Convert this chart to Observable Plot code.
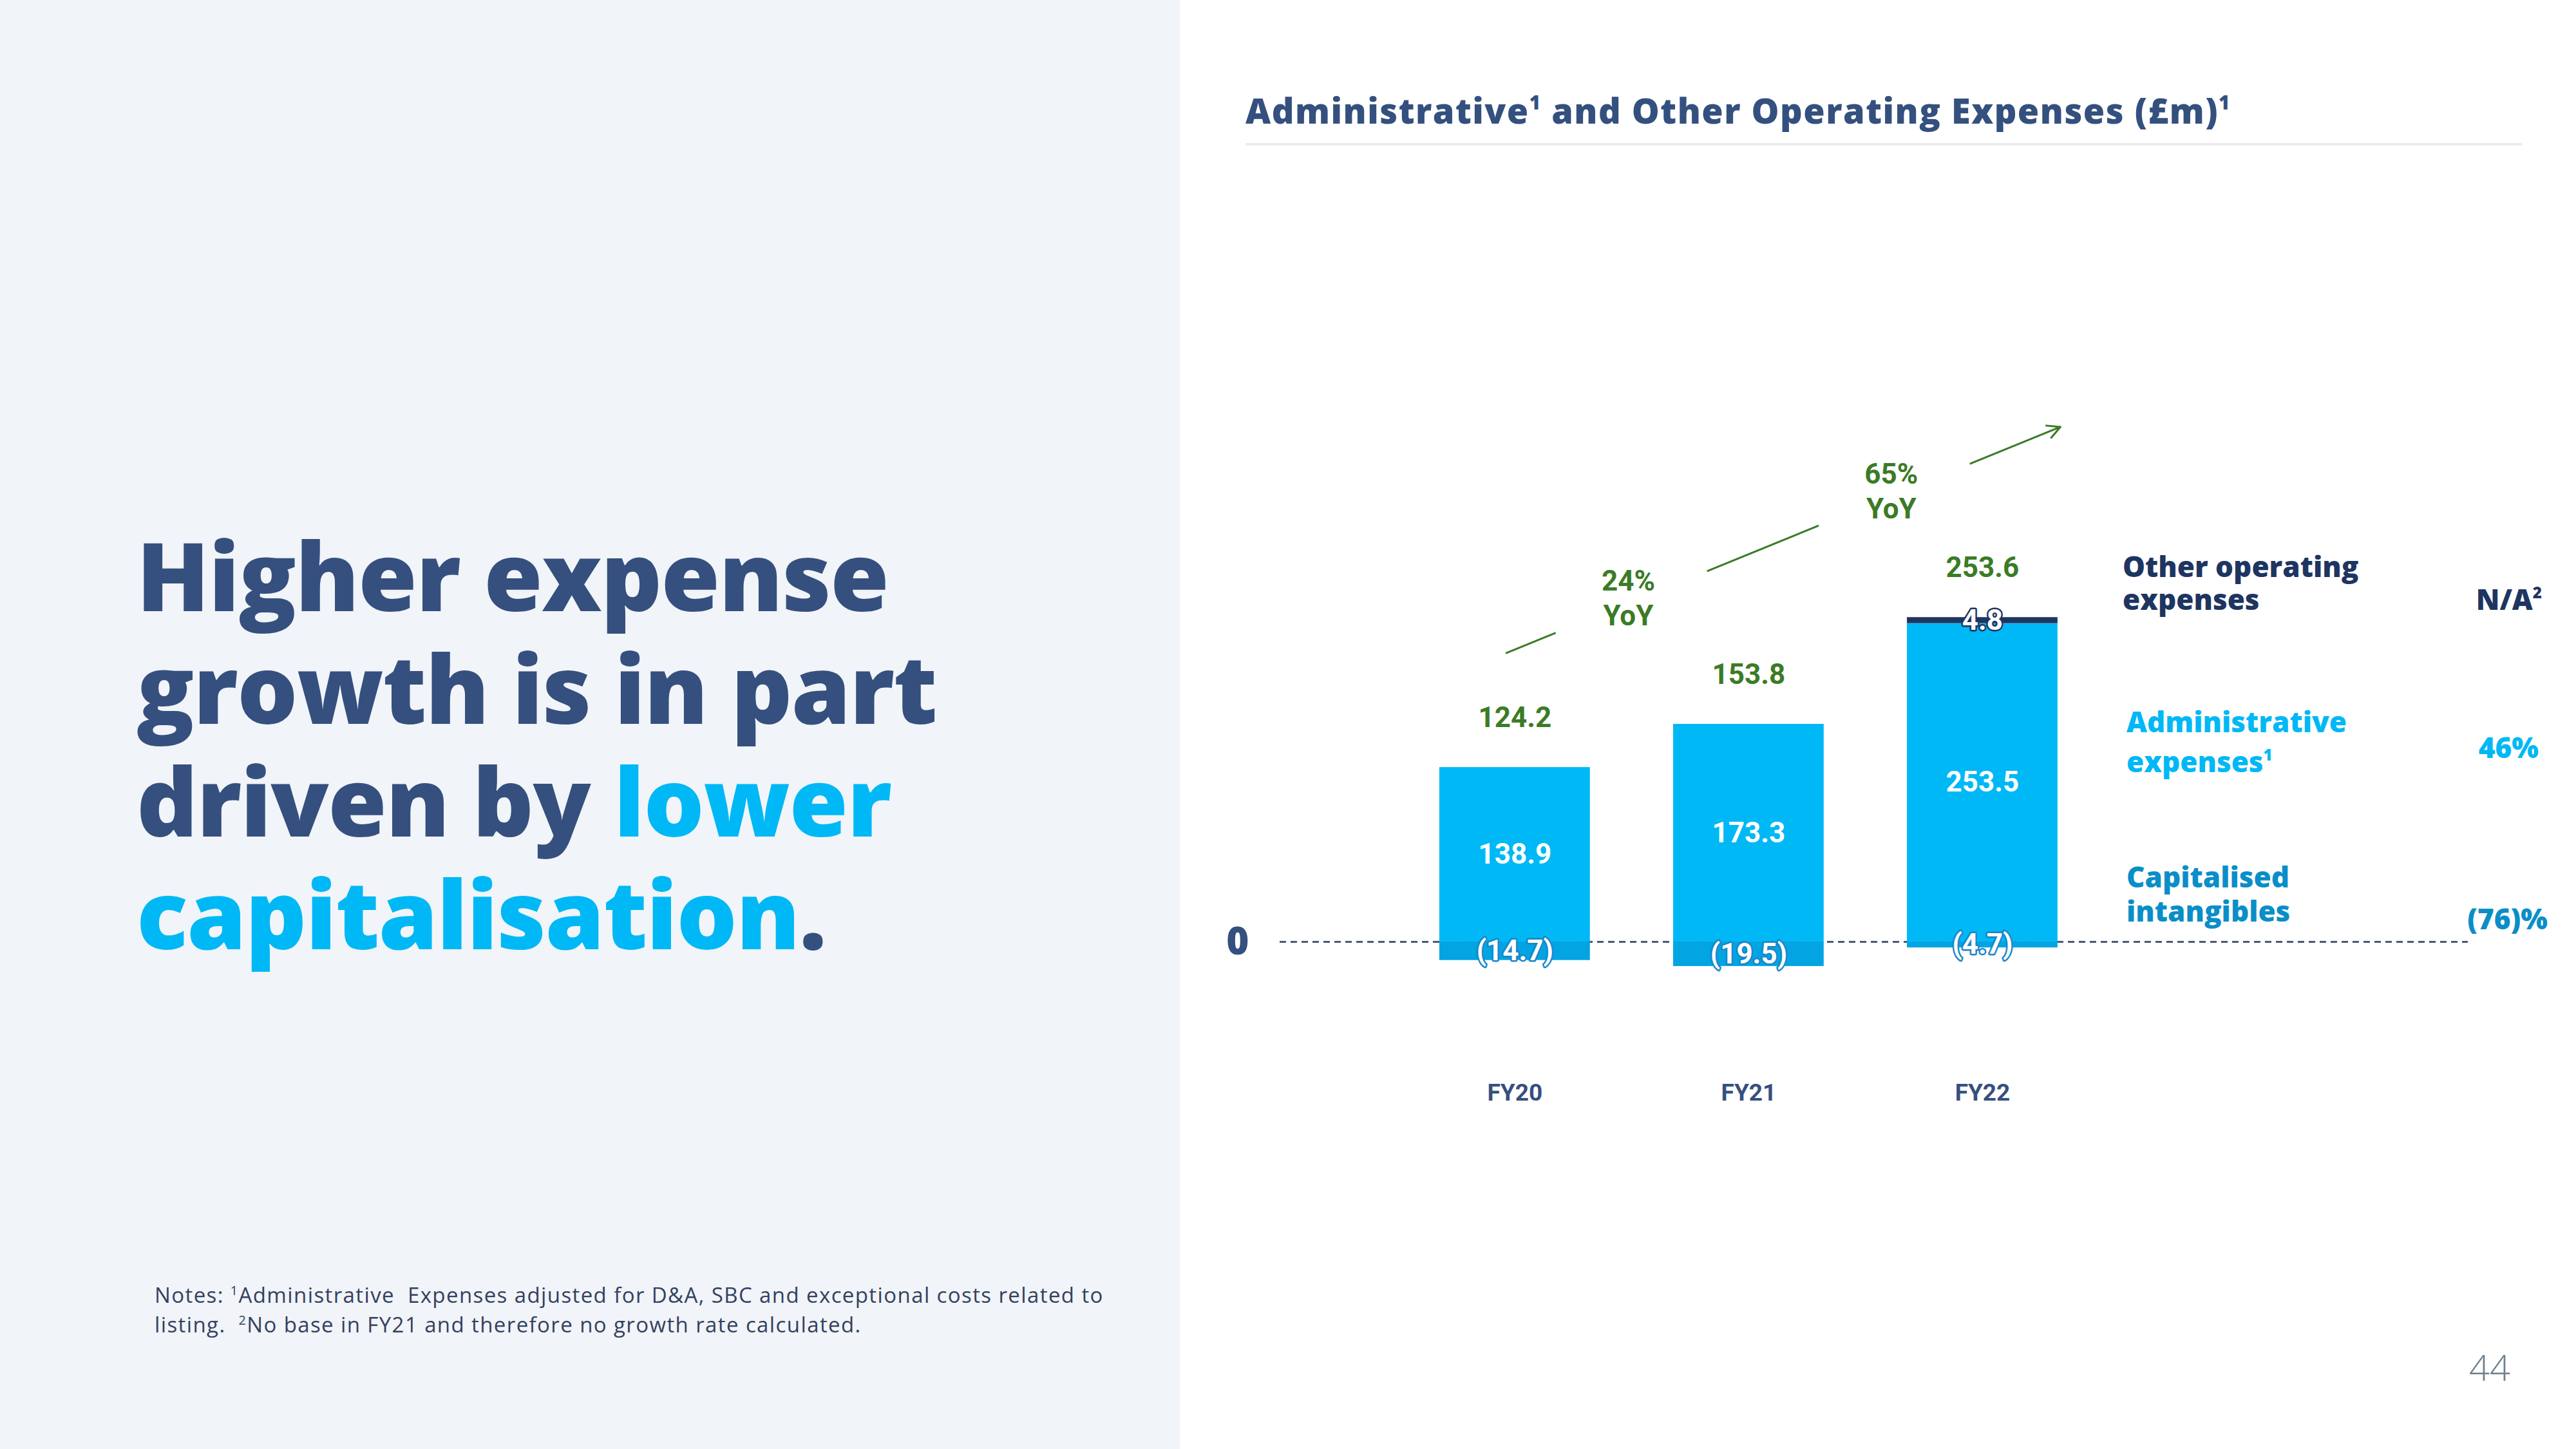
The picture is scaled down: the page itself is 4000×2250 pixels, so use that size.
<!DOCTYPE html>
<html>
<head>
<meta charset="utf-8">
<script src="https://cdn.jsdelivr.net/npm/d3@7"></script>
<script src="https://cdn.jsdelivr.net/npm/@observablehq/plot@0.6"></script>
<style>
  html, body { margin: 0; padding: 0; }
  body { width: 4000px; height: 2250px; position: relative; background: #ffffff; overflow: hidden; font-family: "Open Sans", sans-serif; }
  #leftpanel { position: absolute; left: 0; top: 0; width: 1832px; height: 2250px; background: #f1f4f8; }
  .hline { position: absolute; left: 212px; height: 175px; font-weight: 800; font-size: 148px; line-height: 175px; color: #35507e; white-space: nowrap; letter-spacing: -1.5px; }
  .hl { color: #00b8f5; }
  #notes { position: absolute; left: 240px; top: 1988px; font-size: 33px; line-height: 46px; color: #33415f; white-space: nowrap; letter-spacing: 1.4px; }
  #notes sup { font-size: 0.6em; vertical-align: 0.6em; line-height: 0; }
  #title { position: absolute; left: 1934px; top: 144px; font-size: 54px; line-height: 54px; font-weight: 800; color: #34507e; white-space: nowrap; letter-spacing: 1.5px; }
  #title sup, .lg sup { font-size: 0.55em; vertical-align: 0.75em; line-height: 0; }
  #rule { position: absolute; left: 1934px; top: 222px; width: 1982px; height: 4px; background: #ececec; }
  #chart { position: absolute; left: 1880px; top: 560px; }
  .lg { position: absolute; font-size: 44px; line-height: 44px; font-weight: 800; white-space: nowrap; letter-spacing: 0px; }
  .gr { text-align: right; }
  #page { position: absolute; left: 3834px; top: 2094px; font-size: 56px; line-height: 56px; font-weight: 300; color: #6e808c; }
</style>
</head>
<body>
<div id="leftpanel"></div>
<div class="hline" style="top:804px;">Higher expense</div>
<div class="hline" style="top:979px;">growth is in part</div>
<div class="hline" style="top:1154px;">driven by <span class="hl">lower</span></div>
<div class="hline" style="top:1329px;"><span class="hl">capitalisation</span>.</div>
<div id="notes">Notes: <sup>1</sup>Administrative&nbsp; Expenses adjusted for D&amp;A, SBC and exceptional costs related to<br>listing.&nbsp; <sup>2</sup>No base in FY21 and therefore no growth rate calculated.</div>
<div id="title">Administrative<sup>1</sup> and Other Operating Expenses (£m)<sup>1</sup></div>
<div id="rule"></div>
<div id="chart"></div>

<div class="lg" style="left:3296px; top:857px; color:#1e3561;">Other operating</div>
<div class="lg" style="left:3296px; top:908px; color:#1e3561;">expenses</div>
<div class="lg" style="left:3302px; top:1098px; color:#00b8f5;">Administrative</div>
<div class="lg" style="left:3302px; top:1160px; color:#00b8f5;">expenses<sup>1</sup></div>
<div class="lg" style="left:3302px; top:1339px; color:#0a8ec8;">Capitalised</div>
<div class="lg" style="left:3302px; top:1392px; color:#0a8ec8;">intangibles</div>

<div class="lg gr" style="right:53px; top:908px; color:#1e3561;">N/A<sup>2</sup></div>
<div class="lg gr" style="right:58px; top:1138px; color:#00b8f5;">46%</div>
<div class="lg gr" style="right:44px; top:1404px; color:#0a8ec8;">(76)%</div>

<div id="page">44</div>

<script>
// ---- Data ----
const years = ["FY20", "FY21", "FY22"];
const adminExpenses = [138.9, 173.3, 253.5];
const capitalisedIntangibles = [-14.7, -19.5, -4.7];
const otherOperating = [0, 0, 4.8];
const yoyLabels = ["24%\nYoY", "65%\nYoY"];

// ---- Styling / annotation geometry ----
const green = "#3b7b26";
const navy = "#1e3561";
const colorDomain = ["admin", "cap", "other"];
const colorRange = ["#00b8f5", "#02a4e2", "#1e3561"];
const half = 0.322;                     // half bar width in index units
const trend = [{x1: -0.036, y1: 230, x2: 2.333, y2: 410}];   // growth arrow
const yoyNudge = [-0.015, 0.11];

// ---- Derived rows ----
const segments = [];
years.forEach((yr, i) => {
  segments.push({i, series: "admin", y1: 0, y2: adminExpenses[i], value: adminExpenses[i]});
  segments.push({i, series: "cap", y1: 0, y2: capitalisedIntangibles[i], value: capitalisedIntangibles[i]});
  if (otherOperating[i] > 0)
    segments.push({i, series: "other", y1: adminExpenses[i], y2: adminExpenses[i] + otherOperating[i], value: otherOperating[i]});
});
const totals = years.map((yr, i) => ({
  i,
  top: adminExpenses[i] + otherOperating[i],
  total: adminExpenses[i] + capitalisedIntangibles[i] + otherOperating[i]
}));
const t = trend[0];
const yoyRows = yoyLabels.map((label, k) => {
  const x = k + 0.5 + yoyNudge[k];
  const y = t.y1 + (x - t.x1) / (t.x2 - t.x1) * (t.y2 - t.y1) + 5;
  return {x, y, label};
});
const mid = d => (d.y1 + d.y2) / 2;
const fmt = v => v < 0 ? `(${Math.abs(v).toFixed(1)})` : v.toFixed(1);

const labelFont = "Roboto, 'Liberation Sans', Arial, sans-serif";
const yoyStyle = {x: "x", y: "y", text: "label", fontSize: 44, fontWeight: 700, lineHeight: 1.23};

const chart = Plot.plot({
  width: 2080,
  height: 1250,
  marginLeft: 107,
  marginRight: 128,
  marginTop: 40,
  marginBottom: 150,
  x: {type: "linear", domain: [-1.005, 4.077]},
  y: {domain: [-101.5, 442]},
  color: {domain: colorDomain, range: colorRange},
  style: {background: "transparent", fontFamily: labelFont, overflow: "visible"},
  marks: [
    Plot.ruleY([0], {stroke: "#4a5877", strokeWidth: 3, strokeDasharray: "10,7"}),
    Plot.rectY(segments, {x1: d => d.i - half, x2: d => d.i + half, y1: "y1", y2: "y2", fill: "series"}),
    Plot.arrow(trend, {x1: "x1", y1: "y1", x2: "x2", y2: "y2", stroke: green, strokeWidth: 3, headLength: 11, headAngle: 55}),
    // white halo that opens a gap in the growth arrow around each YoY label
    Plot.text(yoyRows, {...yoyStyle, fill: "white", stroke: "white", strokeWidth: 170, strokeLinejoin: "round"}),
    Plot.text(yoyRows, {...yoyStyle, fill: green}),
    Plot.text(totals, {x: "i", y: "top", text: d => d.total.toFixed(1), dy: -77, fill: green, fontSize: 44, fontWeight: 700}),
    Plot.text(segments.filter(d => d.series === "admin"), {x: "i", y: mid, text: d => fmt(d.value), fill: "white", fontSize: 44, fontWeight: 700}),
    Plot.text(segments.filter(d => d.series === "cap"), {x: "i", y: mid, text: d => fmt(d.value), fill: "white", stroke: "#1a86c8", strokeWidth: 5, fontSize: 44, fontWeight: 700}),
    Plot.text(segments.filter(d => d.series === "other"), {x: "i", y: mid, text: d => fmt(d.value), fill: "white", stroke: navy, strokeWidth: 5, fontSize: 44, fontWeight: 700}),
    Plot.axisX({ticks: years.map((_, i) => i), tickFormat: i => years[i], tickSize: 0, tickPadding: 22,
      fontSize: 37, fontWeight: 700, color: "#35507e", label: null}),
    Plot.axisY({ticks: [0], tickFormat: d => String(d), tickSize: 0, tickPadding: 48, fontSize: 60, fontWeight: 800,
      fontFamily: "'Open Sans', sans-serif", color: "#34507e", label: null})
  ]
});
document.getElementById("chart").appendChild(chart);
</script>
</body>
</html>
